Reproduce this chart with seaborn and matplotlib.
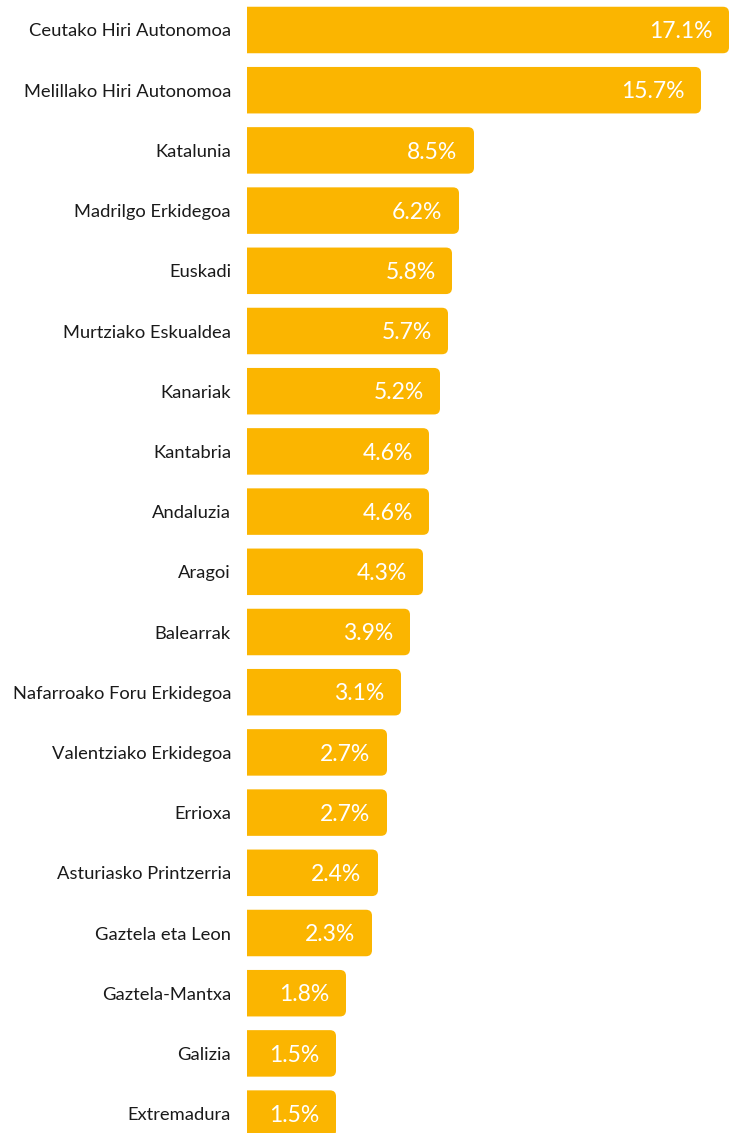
import matplotlib
matplotlib.use('Agg')
import matplotlib.pyplot as plt
from matplotlib.patches import FancyBboxPatch
import seaborn as sns
import pandas as pd

# Regions and the share labels shown on the bars
regions = ['Ceutako Hiri Autonomoa', 'Melillako Hiri Autonomoa', 'Katalunia',
           'Madrilgo Erkidegoa', 'Euskadi', 'Murtziako Eskualdea', 'Kanariak',
           'Kantabria', 'Andaluzia', 'Aragoi', 'Balearrak',
           'Nafarroako Foru Erkidegoa', 'Valentziako Erkidegoa', 'Errioxa',
           'Asturiasko Printzerria', 'Gaztela eta Leon', 'Gaztela-Mantxa',
           'Galizia', 'Extremadura']
values = [17.1, 15.7, 8.5, 6.2, 5.8, 5.7, 5.2, 4.6, 4.6, 4.3, 3.9,
          3.1, 2.7, 2.7, 2.4, 2.3, 1.8, 1.5, 1.5]
# bar lengths as drawn in the original (not proportional to the labels)
bar_len = [482, 454, 227, 212, 205, 201, 193, 182, 182, 176, 163,
           154, 140, 140, 131, 125, 99, 89, 89]

df = pd.DataFrame({'region': regions, 'value': values, 'len': bar_len})

sns.set_theme(style='white')
plt.rcParams['font.family'] = ['Lato', 'DejaVu Sans']

W, H = 729, 1133
fig = plt.figure(figsize=(W / 100, H / 100), dpi=100)
ax_left = 247
ax = fig.add_axes([ax_left / W, 0, (W - ax_left) / W, 1])

bar_color = '#FBB500'
pitch = 60.2
sns.barplot(data=df, x='len', y='region', color=bar_color, orient='h',
            width=46.5 / pitch, saturation=1, ax=ax)

ax.set_xlim(0, W - ax_left)
top = -30 / pitch
ax.set_ylim(top + H / pitch, top)

# replace plain bars with right-rounded ones
aspect = 1 / pitch
for p in list(ax.patches):
    x0, y0, w, h = p.get_x(), p.get_y(), p.get_width(), p.get_height()
    p.remove()
    ax.add_patch(FancyBboxPatch((x0 - 20, y0), w + 20, h,
                                boxstyle='round,pad=0,rounding_size=6',
                                mutation_aspect=aspect,
                                fc=bar_color, ec='none'))

for i, (v, l) in enumerate(zip(values, bar_len)):
    ax.annotate(f'{v}%', (l, i), xytext=(-11.8, -1.2), textcoords='offset points',
                ha='right', va='center', color='white', fontsize=16.5)

ax.set_xlabel('')
ax.set_ylabel('')
ax.set_xticks([])
ax.tick_params(axis='y', length=0, pad=11.5, labelsize=13.2, labelcolor='#1a1a1a')
sns.despine(ax=ax, left=True, bottom=True)

fig.savefig('out.png', dpi=100)
